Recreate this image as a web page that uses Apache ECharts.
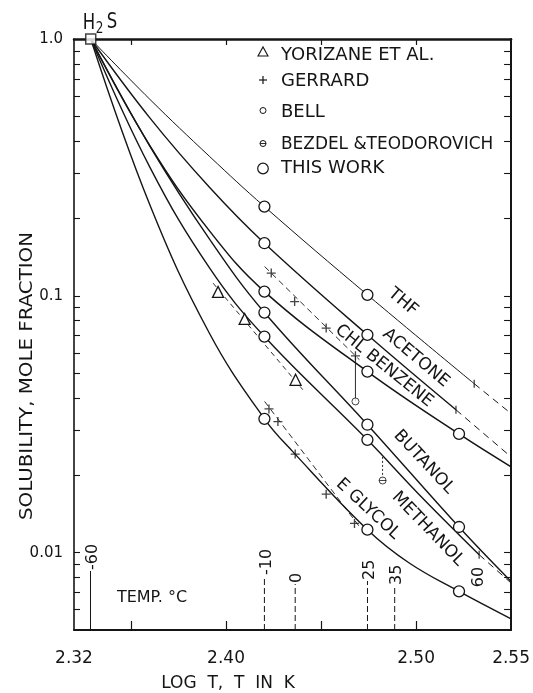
<!DOCTYPE html>
<html><head><meta charset="utf-8">
<script src="https://cdn.jsdelivr.net/npm/echarts@6/dist/echarts.min.js"></script>
<style>html,body{margin:0;padding:0;background:#fff}#c{width:533px;height:693px}</style>
</head><body><div id="c"></div>
<script>
// ---------------- data ----------------
const xLabelValues = [2.32, 2.40, 2.50, 2.55];
const xTickValues  = [2.35, 2.40, 2.45, 2.50];
const yLabelValues = [0.01, 0.1, 1];
const yTickValues  = [0.006,0.007,0.008,0.009,0.01,0.02,0.03,0.04,0.05,0.06,0.07,0.08,0.09,0.1,0.2,0.3,0.4,0.5,0.6,0.7,0.8,0.9];

const h2sLogT = [2.3288];
const h2sSol  = [1.0];

const thfLogT = [2.3288, 2.3599, 2.3914, 2.4202, 2.4744, 2.5306];
const thfSol  = [1.0, 0.5825, 0.3486, 0.2226, 0.1009, 0.0455];
const thfExtLogT = [2.5306, 2.55];
const thfExtSol  = [0.0455, 0.0348];

const acetoneLogT = [2.3288, 2.3599, 2.3914, 2.4202, 2.4744, 2.5210];
const acetoneSol  = [1.0, 0.4932, 0.2641, 0.1603, 0.0705, 0.0360];
const acetoneExtLogT = [2.5210, 2.55];
const acetoneExtSol  = [0.0360, 0.0236];

const chlbzLogT = [2.3288, 2.3599, 2.3914, 2.4202, 2.4744, 2.5226, 2.55];
const chlbzSol  = [1.0, 0.3847, 0.1786, 0.1039, 0.0507, 0.0290, 0.0216];

const butanolLogT = [2.3288, 2.3599, 2.3914, 2.4202, 2.4744, 2.5226, 2.55];
const butanolSol  = [1.0, 0.3831, 0.1659, 0.0861, 0.0315, 0.01259, 0.00773];

const methanolLogT = [2.3288, 2.3599, 2.3914, 2.4202, 2.4744, 2.5017, 2.5332];
const methanolSol  = [1.0, 0.3171, 0.1281, 0.0694, 0.0275, 0.01681, 0.00982];
const methanolExtLogT = [2.5332, 2.55];
const methanolExtSol  = [0.00982, 0.00762];

const eglycolLogT = [2.3288, 2.3599, 2.3914, 2.4202, 2.4350, 2.4744, 2.4964, 2.5226, 2.55];
const eglycolSol  = [1.0, 0.2262, 0.0712, 0.0332, 0.0248, 0.01229, 0.00912, 0.00707, 0.00553];

// "This work" measured points at -10, 25, 60 C
const thisWorkLogT = [2.4202, 2.4744, 2.5226];
const thfCircles      = [0.2226, 0.1009];
const acetoneCircles  = [0.1603, 0.0705];
const chlbzCircles    = [0.1039, 0.0507, 0.0290];
const butanolCircles  = [0.0861, 0.0315, 0.01259];
const methanolCircles = [0.0694, 0.0275];
const eglycolCircles  = [0.0332, 0.01229, 0.00707];

// Gerrard
const gerrardChlbzLogT = [2.4238, 2.4361, 2.4527, 2.4681];
const gerrardChlbzSol  = [0.1226, 0.0950, 0.0749, 0.0584];
const gerrardChlbzFitLogT = [2.4203, 2.4702];
const gerrardChlbzFitSol  = [0.130, 0.0564];
const gerrardEgLogT = [2.4226, 2.4273, 2.4364, 2.4527, 2.4676];
const gerrardEgSol  = [0.0363, 0.0324, 0.0242, 0.0169, 0.0130];
const gerrardEgFitLogT = [2.4203, 2.4702];
const gerrardEgFitSol  = [0.0388, 0.01263];

// Yorizane et al.
const yorizaneLogT = [2.3958, 2.4098, 2.4366];
const yorizaneSol  = [0.1036, 0.0813, 0.0471];
const yorizaneFitLogT = [2.3932, 2.4404];
const yorizaneFitSol  = [0.1120, 0.0431];

// Bell
const bellLogT = [2.4681];
const bellSol  = [0.0388];
const bellLinkSol = [0.0584, 0.0388];

// Bezdel & Teodorovich
const bezdelLogT = [2.4824];
const bezdelSol  = [0.0191];
const bezdelLinkSol = [0.0236, 0.0191];

// temperature markers (deg C)
const tempMarks = [-60, -10, 0, 25, 35];
const tempMarkLabels = ['-60', '-10', '0', '25', '35'];

// ---------------- chart ----------------
const FONT = 'DejaVu Sans';
const INK = '#151515';
const pts = (xs, ys) => xs.map((x, i) => [x, ys[i]]);

function curve(xs, ys, w) {
  return {type:'line', data:pts(xs, ys), smooth:0.4, symbol:'none', showSymbol:false,
    lineStyle:{color:INK, width:w}, silent:true, z:3, animation:false};
}
function dashed(xs, ys, w, dash) {
  return {type:'line', data:pts(xs, ys), symbol:'none', showSymbol:false,
    lineStyle:{color:INK, width:w, type:dash || [7, 5]}, silent:true, z:3, animation:false};
}
function marks(xs, ys, symbol, size, style, z) {
  return {type:'scatter', data:pts(xs, ys), symbol:symbol, symbolSize:size,
    itemStyle:style, silent:true, z:z || 6, animation:false};
}
const openStyle = {color:'#fff', borderColor:INK, borderWidth:1.3, opacity:1};
const PLUS = 'path://M3.4,0H4.6V3.4H8V4.6H4.6V8H3.4V4.6H0V3.4H3.4Z';
const BEZ = 'path://M0,4A4,4 0 1,0 8,4A4,4 0 1,0 0,4ZM0,4H8';

const series = [
  curve(thfLogT, thfSol, 1.0),
  dashed(thfExtLogT, thfExtSol, 1.0),
  curve(acetoneLogT, acetoneSol, 1.4),
  dashed(acetoneExtLogT, acetoneExtSol, 1.0),
  curve(chlbzLogT, chlbzSol, 1.5),
  curve(butanolLogT, butanolSol, 1.4),
  curve(methanolLogT, methanolSol, 1.4),
  dashed(methanolExtLogT, methanolExtSol, 1.0),
  curve(eglycolLogT, eglycolSol, 1.4),
  dashed(gerrardChlbzFitLogT, gerrardChlbzFitSol, 0.9, [6, 4]),
  dashed(gerrardEgFitLogT, gerrardEgFitSol, 0.9, [6, 4]),
  dashed(yorizaneFitLogT, yorizaneFitSol, 0.9, [5, 4]),
  dashed([bellLogT[0], bellLogT[0]], bellLinkSol, 0.9, 'solid'),
  dashed([bezdelLogT[0], bezdelLogT[0]], bezdelLinkSol, 0.9, [2, 2]),
  // ends of solid curves (boiling points)
  marks([thfLogT[5], acetoneLogT[5], methanolLogT[6]], [thfSol[5], acetoneSol[5], methanolSol[6]],
        'rect', [1.3, 8], {color:INK}, 4),
  marks(thisWorkLogT.slice(0,2), thfCircles, 'circle', 11, openStyle),
  marks(thisWorkLogT.slice(0,2), acetoneCircles, 'circle', 11, openStyle),
  marks(thisWorkLogT, chlbzCircles, 'circle', 11, openStyle),
  marks(thisWorkLogT, butanolCircles, 'circle', 11, openStyle),
  marks(thisWorkLogT.slice(0,2), methanolCircles, 'circle', 11, openStyle),
  marks(thisWorkLogT, eglycolCircles, 'circle', 11, openStyle),
  marks(gerrardChlbzLogT, gerrardChlbzSol, PLUS, 9, {color:INK}),
  marks(gerrardEgLogT, gerrardEgSol, PLUS, 9, {color:INK}),
  marks(yorizaneLogT, yorizaneSol, 'triangle', 11, openStyle),
  marks(bellLogT, bellSol, 'circle', 7, {color:'#fff', borderColor:INK, borderWidth:1}),
  marks(bezdelLogT, bezdelSol, BEZ, 7, {color:'#fff', borderColor:INK, borderWidth:1}),
  marks(h2sLogT, h2sSol, 'rect', 10, {color:'#fff', borderColor:INK, borderWidth:1.5}, 8)
];

const axisLabelFont = {fontFamily:FONT, color:INK};
const option = {
  animation:false,
  backgroundColor:'#fff',
  grid:{left:74, right:20, top:39, bottom:63, containLabel:false},
  xAxis:[
    {type:'value', position:'bottom', min:2.32, max:2.55,
     axisLine:{show:true, onZero:false, lineStyle:{color:INK, width:2}},
     axisTick:{show:true, inside:true, length:9, customValues:xTickValues, lineStyle:{color:INK, width:1.2}},
     axisLabel:Object.assign({customValues:xLabelValues, margin:20, fontSize:17,
       formatter:v => Number(v).toFixed(2)}, axisLabelFont),
     splitLine:{show:false}},
    {type:'value', position:'top', min:2.32, max:2.55,
     axisLine:{show:true, onZero:false, lineStyle:{color:INK, width:2.5}},
     axisTick:{show:true, inside:true, length:6, customValues:xTickValues, lineStyle:{color:INK, width:1.2}},
     axisLabel:{show:false}, splitLine:{show:false}}
  ],
  yAxis:[
    {type:'log', logBase:10, position:'left', min:0.005, max:1,
     axisLine:{show:true, onZero:false, lineStyle:{color:INK, width:1.6}},
     axisTick:{show:true, inside:true, length:6, customValues:yTickValues, lineStyle:{color:INK, width:1.1}},
     axisLabel:Object.assign({customValues:yLabelValues, margin:11, fontSize:15,
       formatter:v => (v > 0.5 ? '1.0' : (v > 0.05 ? '0.1' : '0.01'))}, axisLabelFont),
     splitLine:{show:false}, minorTick:{show:false}},
    {type:'log', logBase:10, position:'right', min:0.005, max:1,
     axisLine:{show:true, onZero:false, lineStyle:{color:INK, width:2}},
     axisTick:{show:true, inside:true, length:7, customValues:yTickValues, lineStyle:{color:INK, width:1.1}},
     axisLabel:{show:false}, splitLine:{show:false}, minorTick:{show:false}}
  ],
  series:series
};

const chart = echarts.init(document.getElementById('c'), null, {renderer:'canvas', width:533, height:693});
chart.setOption(option);

// ---------------- annotations ----------------
const px = v => chart.convertToPixel({xAxisIndex:0}, v);
const py = v => chart.convertToPixel({yAxisIndex:0}, v);
const g = [];
const txt = (o) => g.push({type:'text', silent:true, z:20, x:o.x, y:o.y, rotation:o.r || 0,
  scaleX:o.sx || 1, scaleY:o.sy || 1,
  style:{text:o.t, fill:INK, fontFamily:FONT, fontSize:o.fs || 17,
    align:o.align || 'center', verticalAlign:o.va || 'middle'}});

// axis titles
txt({t:'SOLUBILITY, MOLE FRACTION', x:27, y:376, r:Math.PI / 2, fs:18, sx:1.1});
txt({t:'LOG  T,  T  IN  K', x:228, y:684, fs:17});
txt({t:'TEMP. °C', x:152, y:598, fs:16});

// H2S label
txt({t:'H', x:89, y:23, fs:22, sx:0.75});
txt({t:'2', x:99.5, y:29, fs:15, sx:0.8});
txt({t:'S', x:112, y:22, fs:22, sx:0.75});

// temperature markers
const yBottom = py(0.005);
const markLen = [59, 54, 46, 49, 44];
tempMarks.forEach((t, i) => {
  const x = px(Math.log10(t + 273.15));
  const top = yBottom - markLen[i];
  g.push({type:'line', silent:true, z:10, shape:{x1:x, y1:yBottom, x2:x, y2:top},
    style:{stroke:INK, lineWidth:1, lineDash: i === 0 ? null : [6, 3]}});
  txt({t:tempMarkLabels[i], x:x + 2, y:top - 1, r:Math.PI / 2, fs:16, align:'left'});
});
txt({t:'60', x:479, y:577, r:Math.PI / 2, fs:16});

// curve labels
[
  {t:'THF', x:403, y:302, a:40},
  {t:'ACETONE', x:416, y:358, a:40},
  {t:'CHL BENZENE', x:384, y:366, a:39},
  {t:'BUTANOL', x:424, y:462, a:47},
  {t:'METHANOL', x:428, y:529, a:46},
  {t:'E GLYCOL', x:368, y:509, a:43}
].forEach(o => txt({t:o.t, x:o.x, y:o.y, r:-o.a * Math.PI / 180, fs:17}));

// legend
const lx = 263;
g.push({type:'polygon', silent:true, z:20, shape:{points:[[lx - 5, 56], [lx + 5, 56], [lx, 47]]},
  style:{fill:'#fff', stroke:INK, lineWidth:1.1}});
g.push({type:'line', silent:true, z:20, shape:{x1:lx - 4, y1:80, x2:lx + 4, y2:80}, style:{stroke:INK, lineWidth:1.2}});
g.push({type:'line', silent:true, z:20, shape:{x1:lx, y1:76, x2:lx, y2:84}, style:{stroke:INK, lineWidth:1.2}});
g.push({type:'circle', silent:true, z:20, shape:{cx:lx, cy:110.5, r:3}, style:{fill:'#fff', stroke:INK, lineWidth:1}});
g.push({type:'circle', silent:true, z:20, shape:{cx:lx, cy:143.5, r:3}, style:{fill:'#fff', stroke:INK, lineWidth:1}});
g.push({type:'line', silent:true, z:20, shape:{x1:lx - 3, y1:143.5, x2:lx + 3, y2:143.5}, style:{stroke:INK, lineWidth:0.9}});
g.push({type:'circle', silent:true, z:20, shape:{cx:lx, cy:168.5, r:5.3}, style:{fill:'#fff', stroke:INK, lineWidth:1.2}});
[['YORIZANE ET AL.', 55.5, 1], ['GERRARD', 81, 1], ['BELL', 112, 1], ['BEZDEL &TEODOROVICH', 144.5, 0.94], ['THIS WORK', 168.5, 1]]
  .forEach(([t, y, s]) => txt({t:t, x:281, y:y, fs:18, align:'left', sx:s}));

chart.setOption({graphic:g});
</script>
</body></html>
